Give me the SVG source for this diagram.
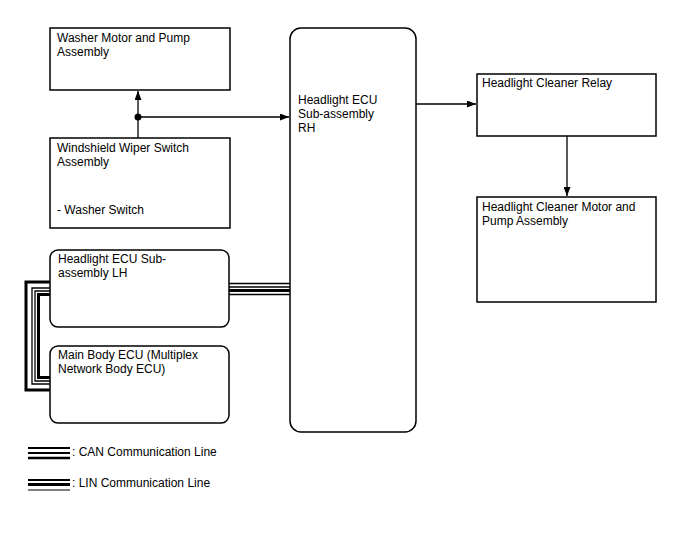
<svg xmlns="http://www.w3.org/2000/svg" width="688" height="560" viewBox="0 0 688 560">
<defs>
<marker id="arr" markerWidth="9" markerHeight="7" refX="9" refY="3.5" orient="auto" markerUnits="userSpaceOnUse">
<path d="M0,0 L9,3.5 L0,7 Z" fill="#000"/>
</marker>
<style>
.box{fill:#fff;stroke:#000;stroke-width:1.5}
.t{font-family:"Liberation Sans",Arial,sans-serif;font-size:12px;fill:#000}
.ln{fill:none;stroke:#000;stroke-width:1.3}
.bus{fill:none;stroke:#000}
</style>
</defs>
<rect width="688" height="560" fill="#fff"/>

<g id="connectors">
<line class="ln" x1="138" y1="138" x2="138" y2="91" marker-end="url(#arr)"/>
<line class="ln" x1="138" y1="117" x2="289" y2="117" marker-end="url(#arr)"/>
<circle cx="138" cy="117" r="3.5" fill="#000"/>
<line class="ln" x1="416" y1="104" x2="476" y2="104" marker-end="url(#arr)"/>
<line class="ln" x1="567" y1="136" x2="567" y2="196" marker-end="url(#arr)"/>
<!-- horizontal bus LH to RH -->
<line class="bus" x1="229" y1="283.5" x2="290" y2="283.5" stroke-width="1.3"/>
<line class="bus" x1="229" y1="287" x2="290" y2="287" stroke-width="1.3"/>
<line class="bus" x1="229" y1="290.5" x2="290" y2="290.5" stroke-width="3"/>
<line class="bus" x1="229" y1="294.5" x2="290" y2="294.5" stroke-width="1.3"/>
<!-- left bracket bus LH to Main Body -->
<path class="bus" d="M50,282 H26 V390 H50" stroke-width="3"/>
<path class="bus" d="M50,288 H32 V384 H50" stroke-width="1.3"/>
<path class="bus" d="M50,291 H35 V381 H50" stroke-width="1.3"/>
<path class="bus" d="M50,294.5 H38.5 V377.5 H50" stroke-width="3"/>
</g>

<g id="washer-motor">
<rect class="box" x="50" y="28" width="180" height="62"/>
<text class="t" x="57" y="42">Washer Motor and Pump</text>
<text class="t" x="57" y="56">Assembly</text>
</g>

<g id="wiper-switch">
<rect class="box" x="50" y="138" width="180" height="90"/>
<text class="t" x="57" y="152">Windshield Wiper Switch</text>
<text class="t" x="57" y="166">Assembly</text>
<text class="t" x="57" y="214">- Washer Switch</text>
</g>

<g id="ecu-lh">
<rect class="box" x="50" y="250" width="179" height="77" rx="8"/>
<text class="t" x="58" y="263">Headlight ECU Sub-</text>
<text class="t" x="58" y="277">assembly LH</text>
</g>

<g id="main-body-ecu">
<rect class="box" x="50" y="346" width="179" height="77" rx="8"/>
<text class="t" x="58" y="359">Main Body ECU (Multiplex</text>
<text class="t" x="58" y="373">Network Body ECU)</text>
</g>

<g id="ecu-rh">
<rect class="box" x="290" y="28" width="126" height="404" rx="11"/>
<text class="t" x="298" y="104">Headlight ECU</text>
<text class="t" x="298" y="118">Sub-assembly</text>
<text class="t" x="298" y="132">RH</text>
</g>

<g id="cleaner-relay">
<rect class="box" x="477" y="74" width="179" height="62"/>
<text class="t" x="482" y="87">Headlight Cleaner Relay</text>
</g>

<g id="cleaner-motor">
<rect class="box" x="477" y="197" width="179" height="105"/>
<text class="t" x="482" y="211">Headlight Cleaner Motor and</text>
<text class="t" x="482" y="225">Pump Assembly</text>
</g>

<g id="legend">
<line class="bus" x1="28" y1="448" x2="70" y2="448" stroke-width="2.2"/>
<line class="bus" x1="28" y1="453" x2="70" y2="453" stroke-width="2"/>
<line class="bus" x1="28" y1="458" x2="70" y2="458" stroke-width="2.6"/>
<text class="t" x="72" y="456">: CAN Communication Line</text>
<line class="bus" x1="28" y1="480" x2="70" y2="480" stroke-width="2"/>
<line class="bus" x1="28" y1="484.5" x2="70" y2="484.5" stroke-width="3"/>
<line class="bus" x1="28" y1="490" x2="70" y2="490" stroke-width="1"/>
<text class="t" x="72" y="487">: LIN Communication Line</text>
</g>
</svg>
